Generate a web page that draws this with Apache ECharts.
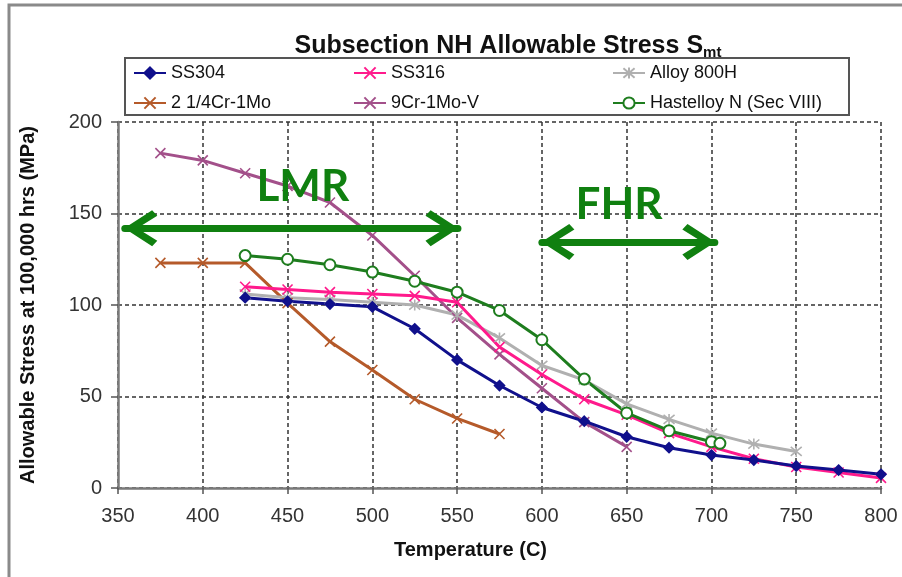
<!DOCTYPE html>
<html>
<head>
<meta charset="utf-8">
<script src="https://cdn.jsdelivr.net/npm/echarts@6/dist/echarts.min.js"></script>
<style>
  html, body { margin: 0; padding: 0; background: #fff; }
  #chart { width: 902px; height: 577px; }
</style>
</head>
<body>
<div id="chart"></div>
<script>
// Data
const ss304Temps = [425, 450, 475, 500, 525, 550, 575, 600, 625, 650, 675, 700, 725, 750, 775, 800]
const ss304Stress = [104, 102, 100.5, 99, 87, 70, 56, 44, 36.5, 28, 22, 18, 15.3, 12, 9.8, 7.5]

const ss316Temps = [425, 450, 475, 500, 525, 550, 575, 600, 625, 650, 675, 700, 725, 750, 775, 800]
const ss316Stress = [110, 108.5, 107, 106, 105, 101.5, 77, 62, 48.5, 40, 30, 22.5, 16, 11.5, 8.5, 5.5]

const alloy800Temps = [425, 450, 475, 500, 525, 550, 575, 600, 625, 650, 675, 700, 725, 750]
const alloy800Stress = [106, 104, 103, 101.5, 100, 94.5, 82, 67, 59, 46, 37.5, 30, 24, 20]

const crMoTemps = [375, 400, 425, 450, 475, 500, 525, 550, 575]
const crMoStress = [123, 123, 123, 101, 80, 64.5, 48.5, 38, 29.5]

const cr9Temps = [375, 400, 425, 450, 475, 500, 525, 550, 575, 600, 625, 650]
const cr9Stress = [183, 179, 172, 165, 156, 138, 116, 93, 73, 54.5, 36, 22.5]

const hastTemps = [425, 450, 475, 500, 525, 550, 575, 600, 625, 650, 675, 700, 705]
const hastStress = [127, 125, 122, 118, 113, 107, 97, 81, 59.5, 41, 31.3, 25.3, 24.4]

// Region annotations (temperature from/to, stress level of the arrow)
const lmrRange = [354, 550.5]
const lmrLevel = 142
const lmrText = [459, 164.5]
const fhrRange = [600, 702]
const fhrLevel = 134.4
const fhrText = [645.5, 154.6]

const pairs = (xs, ys) => xs.map((x, i) => [x, ys[i]])

const xMark = 'path://M0,0L10,10M10,0L0,10'
const starMark = 'path://M0,0L10,10M10,0L0,10M5,-1L5,11'
const chevron = 'path://M18,0L36,27L30.5,32L18,12.5L5.5,32L0,27Z'

const makeSeries = (name, data, color, symbol, size, extra = {}) => ({
  name,
  type: 'line',
  data,
  symbol,
  symbolSize: size,
  lineStyle: { color, width: 3 },
  itemStyle: { color, borderColor: color, borderWidth: 1.6 },
  emphasis: { disabled: true },
  animation: false,
  ...extra
})

const green = '#108010'
const legendFont = { fontFamily: 'Liberation Sans, Arial', fontSize: 18, color: '#111' }

const legendCol = (names, left) => ({
  data: names,
  orient: 'vertical',
  left,
  top: 64,
  itemWidth: 32,
  itemHeight: 14,
  itemGap: 12,
  padding: 0,
  selectedMode: false,
  textStyle: legendFont
})

const chart = echarts.init(document.getElementById('chart'))

chart.setOption({
  backgroundColor: '#fff',
  animation: false,
  title: {
    text: '{a|Subsection NH Allowable Stress S}{b|mt}',
    left: 503,
    textAlign: 'center',
    top: 27,
    textStyle: {
      rich: {
        a: { fontFamily: 'Liberation Sans, Arial', fontWeight: 'bold', fontSize: 25, color: '#111' },
        b: { fontFamily: 'Liberation Sans, Arial', fontSize: 15, color: '#111', padding: [13, 0, 0, 0] }
      }
    }
  },
  legend: [
    legendCol(['SS304', '2 1/4Cr-1Mo'], 133),
    legendCol(['SS316', '9Cr-1Mo-V'], 353),
    legendCol(['Alloy 800H', 'Hastelloy N (Sec VIII)'], 612)
  ],
  grid: { left: 118, right: 21, top: 122, bottom: 89 },
  xAxis: {
    type: 'value',
    min: 350,
    max: 800,
    interval: 50,
    name: 'Temperature (C)',
    nameLocation: 'middle',
    nameGap: 52,
    nameTextStyle: { fontFamily: 'Liberation Sans, Arial', fontWeight: 'bold', fontSize: 20, color: '#111', padding: [0, 58, 0, 0] },
    axisLine: { lineStyle: { color: '#7a7a7a', width: 2.5 } },
    axisTick: { length: 6, lineStyle: { color: '#555', width: 1.5 } },
    axisLabel: { fontFamily: 'Liberation Sans, Arial', fontSize: 20, color: '#333', margin: 18 },
    splitLine: { lineStyle: { color: '#333', type: [4, 3], width: 1.5 } }
  },
  yAxis: {
    type: 'value',
    min: 0,
    max: 200,
    interval: 50,
    name: 'Allowable Stress at 100,000 hrs (MPa)',
    nameLocation: 'middle',
    nameGap: 80,
    nameTextStyle: { fontFamily: 'Liberation Sans, Arial', fontWeight: 'bold', fontSize: 20, color: '#111' },
    axisLine: { show: true, lineStyle: { color: '#7a7a7a', width: 2.5 } },
    axisTick: { show: true, length: 7, lineStyle: { color: '#555', width: 1.5 } },
    axisLabel: { fontFamily: 'Liberation Sans, Arial', fontSize: 20, color: '#333', margin: 16 },
    splitLine: { lineStyle: { color: '#333', type: [4, 3], width: 1.5 } }
  },
  series: [
    makeSeries('2 1/4Cr-1Mo', pairs(crMoTemps, crMoStress), '#b55a2a', xMark, 10),
    makeSeries('9Cr-1Mo-V', pairs(cr9Temps, cr9Stress), '#a3508a', xMark, 10),
    makeSeries('Alloy 800H', pairs(alloy800Temps, alloy800Stress), '#b0b0b0', starMark, 11),
    makeSeries('SS316', pairs(ss316Temps, ss316Stress), '#ff1a8c', xMark, 10),
    makeSeries('SS304', pairs(ss304Temps, ss304Stress), '#10108c', 'diamond', 10),
    makeSeries('Hastelloy N (Sec VIII)', pairs(hastTemps, hastStress), '#1e7d1e', 'circle', 11, {
      itemStyle: { color: '#fff', borderColor: '#1e7d1e', borderWidth: 2 }
    }),
    {
      name: 'regions',
      type: 'line',
      data: [],
      animation: false,
      silent: true,
      markLine: {
        silent: true,
        symbol: [chevron, chevron],
        symbolSize: [36, 33],
        symbolOffset: [[0, 16], [0, 16]],
        label: { show: false },
        lineStyle: { color: green, width: 7, type: 'solid', cap: 'round' },
        emphasis: { disabled: true },
        data: [
          [{ coord: [lmrRange[0], lmrLevel] }, { coord: [lmrRange[1], lmrLevel] }],
          [{ coord: [fhrRange[0], fhrLevel] }, { coord: [fhrRange[1], fhrLevel] }]
        ]
      },
      markPoint: {
        silent: true,
        symbol: 'circle',
        symbolSize: 0,
        label: {
          show: true,
          position: 'inside',
          fontFamily: 'Lato, Open Sans, sans-serif',
          fontWeight: 'bold',
          fontSize: 44,
          color: green,
          formatter: (p) => p.name
        },
        data: [
          { name: 'LMR', coord: lmrText },
          { name: 'FHR', coord: fhrText }
        ]
      }
    }
  ],
  graphic: [
    {
      type: 'rect',
      shape: { x: 125, y: 58, width: 724, height: 57 },
      style: { fill: 'none', stroke: '#555', lineWidth: 2 },
      silent: true
    },
    {
      type: 'polyline',
      shape: { points: [[9, 577], [9, 5], [902, 5]] },
      style: { stroke: '#8a8a8a', lineWidth: 3, fill: 'none' },
      silent: true
    }
  ]
})
</script>
</body>
</html>
